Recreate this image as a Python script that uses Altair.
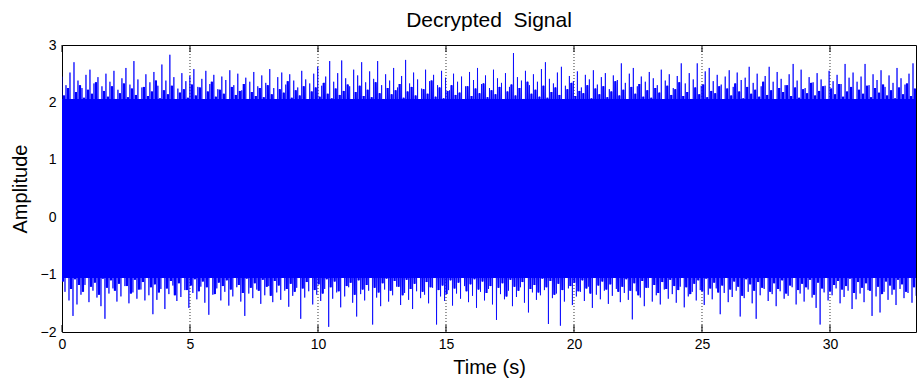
import altair as alt
import numpy as np
import pandas as pd

# Largest upward excursions of the decrypted signal
upper_peaks = [
    2.45, 2.30, 2.52, 2.70, 2.38, 2.25, 2.48, 2.57, 2.33, 2.44,
    2.28, 2.50, 2.36, 2.55, 2.22, 2.42, 2.60, 2.31, 2.72, 2.40,
    2.26, 2.49, 2.35, 2.53, 2.29, 2.66, 2.38, 2.83, 2.44, 2.24,
    2.51, 2.37, 2.46, 2.58, 2.27, 2.41, 2.55, 2.32, 2.48, 2.23,
    2.45, 2.39, 2.56, 2.30, 2.50, 2.21, 2.43, 2.36, 2.53, 2.28,
    2.47, 2.34, 2.58, 2.25, 2.44, 2.52, 2.31, 2.49, 2.38, 2.26,
    2.55, 2.40, 2.33, 2.50, 2.62, 2.29, 2.45, 2.72, 2.36, 2.51,
    2.73, 2.42, 2.28, 2.57, 2.47, 2.70, 2.35, 2.54, 2.41, 2.72,
    2.30, 2.49, 2.38, 2.60, 2.26, 2.46, 2.74, 2.33, 2.52, 2.40,
    2.24, 2.57, 2.37, 2.48, 2.30, 2.55, 2.43, 2.21, 2.50, 2.36,
    2.45, 2.28, 2.53, 2.39, 2.60, 2.32, 2.47, 2.25, 2.57, 2.42,
    2.34, 2.51, 2.27, 2.86, 2.44, 2.38, 2.55, 2.30, 2.49, 2.36,
    2.58, 2.70, 2.41, 2.33, 2.52, 2.62, 2.29, 2.46, 2.37, 2.54,
    2.26, 2.48, 2.40, 2.56, 2.31, 2.44, 2.51, 2.23, 2.47, 2.39,
    2.68, 2.34, 2.50, 2.60, 2.28, 2.45, 2.36, 2.53, 2.42, 2.30,
    2.57, 2.38, 2.49, 2.25, 2.46, 2.68, 2.33, 2.51, 2.40, 2.68,
    2.29, 2.54, 2.60, 2.37, 2.48, 2.31, 2.45, 2.56, 2.27, 2.52,
    2.39, 2.43, 2.62, 2.34, 2.50, 2.28, 2.46, 2.62, 2.36, 2.53,
    2.41, 2.30, 2.49, 2.67, 2.38, 2.57, 2.25, 2.44, 2.35, 2.51,
    2.40, 2.29, 2.55, 2.37, 2.48, 2.32, 2.67, 2.43, 2.52, 2.36,
    2.45, 2.67, 2.30, 2.49, 2.39, 2.56, 2.27, 2.47, 2.34, 2.60,
    2.42, 2.31, 2.50, 2.68,
]

# Largest downward excursions
lower_peaks = [
    -1.30, -1.45, -1.72, -1.52, -1.35, -1.18, -1.48, -1.28, -1.40, -1.55,
    -1.77, -1.33, -1.24, -1.47, -1.38, -1.20, -1.50, -1.31, -1.42, -1.26,
    -1.45, -1.36, -1.69, -1.44, -1.25, -1.60, -1.34, -1.19, -1.46, -1.39,
    -1.27, -1.58, -1.32, -1.43, -1.21, -1.49, -1.70, -1.35, -1.24, -1.45,
    -1.30, -1.54, -1.38, -1.22, -1.47, -1.72, -1.33, -1.41, -1.26, -1.51,
    -1.36, -1.20, -1.48, -1.31, -1.44, -1.28, -1.56, -1.37, -1.23, -1.77,
    -1.40, -1.29, -1.52, -1.35, -1.46, -1.25, -1.91, -1.42, -1.31, -1.57,
    -1.38, -1.22, -1.49, -1.73, -1.34, -1.45, -1.28, -1.87, -1.40, -1.55,
    -1.26, -1.47, -1.36, -1.21, -1.53, -1.32, -1.44, -1.60, -1.29, -1.41,
    -1.35, -1.50, -1.23, -1.87, -1.38, -1.46, -1.27, -1.54, -1.33, -1.42,
    -1.20, -1.48, -1.37, -1.58, -1.30, -1.45, -1.25, -1.52, -1.79, -1.34,
    -1.43, -1.28, -1.55, -1.39, -1.22, -1.49, -1.66, -1.31, -1.44, -1.36,
    -1.27, -1.86, -1.41, -1.33, -1.89, -1.47, -1.24, -1.53, -1.38, -1.30,
    -1.46, -1.21, -1.58, -1.35, -1.43, -1.28, -1.51, -1.37, -1.25, -1.48,
    -1.32, -1.44, -1.78, -1.29, -1.40, -1.55, -1.23, -1.47, -1.36, -1.52,
    -1.26, -1.42, -1.34, -1.49, -1.21, -1.57, -1.38, -1.30, -1.45, -1.27,
    -1.53, -1.35, -1.43, -1.24, -1.69, -1.32, -1.48, -1.39, -1.28, -1.73,
    -1.41, -1.30, -1.50, -1.77, -1.36, -1.25, -1.46, -1.34, -1.55, -1.29,
    -1.42, -1.37, -1.22, -1.52, -1.33, -1.47, -1.26, -1.40, -1.58, -1.87,
    -1.31, -1.45, -1.36, -1.24, -1.50, -1.39, -1.28, -1.60, -1.43, -1.33,
    -1.48, -1.27, -1.72, -1.38, -1.66, -1.30, -1.44, -1.35, -1.53, -1.25,
    -1.41, -1.32, -1.49, -1.37,
]

# Smaller upward swings in between the large ones
upper_inner = [
    2.12, 2.25, 2.05, 2.18, 2.30, 2.08, 2.22, 2.15, 2.35, 2.02,
    2.20, 2.10, 2.28, 2.06, 2.16, 2.33, 2.09, 2.24, 2.13, 2.04,
    2.27, 2.11, 2.19, 2.38, 2.07, 2.21, 2.14, 2.29, 2.03, 2.17,
    2.23, 2.08, 2.31, 2.12, 2.26, 2.05, 2.19, 2.36, 2.10, 2.22,
    2.15, 2.02, 2.27, 2.13, 2.20, 2.32, 2.06, 2.18, 2.11, 2.25,
    2.09, 2.30, 2.14, 2.04, 2.23, 2.17, 2.37, 2.08, 2.21, 2.12,
    2.28, 2.05, 2.19, 2.26, 2.10, 2.34, 2.15, 2.07, 2.24, 2.13,
    2.20, 2.31, 2.03, 2.18, 2.29, 2.11, 2.22, 2.09, 2.35, 2.16,
    2.06, 2.25, 2.14, 2.21, 2.32, 2.08, 2.19, 2.27, 2.12, 2.04,
    2.23, 2.15, 2.38, 2.10, 2.26, 2.07, 2.20, 2.30, 2.13, 2.17,
    2.05, 2.28, 2.11, 2.24, 2.16, 2.33, 2.09, 2.21, 2.14, 2.27,
    2.02, 2.19, 2.31, 2.12, 2.25, 2.06, 2.36, 2.15, 2.22, 2.10,
    2.29, 2.08, 2.18, 2.26, 2.13, 2.04, 2.23, 2.34, 2.11, 2.20,
    2.16, 2.30, 2.07, 2.24, 2.14, 2.28, 2.09, 2.19, 2.37, 2.12,
    2.22, 2.05, 2.27, 2.15, 2.32, 2.10, 2.21, 2.08, 2.25, 2.17,
    2.03, 2.29, 2.13, 2.23, 2.35, 2.11, 2.18, 2.06, 2.26, 2.14,
    2.31, 2.09, 2.20, 2.16, 2.28, 2.04, 2.24, 2.12, 2.33, 2.19,
    2.07, 2.27, 2.15, 2.22, 2.10, 2.36, 2.13, 2.21, 2.05, 2.25,
    2.18, 2.30, 2.11, 2.26, 2.08, 2.23, 2.16, 2.34, 2.12, 2.20,
    2.28, 2.06, 2.24, 2.14, 2.32, 2.10, 2.19, 2.27, 2.03, 2.22,
    2.15, 2.29, 2.09, 2.25, 2.17, 2.31, 2.12, 2.21, 2.07, 2.26,
    2.14, 2.33, 2.11, 2.24,
]

# Smaller downward swings in between the large ones
lower_inner = [
    -1.12, -1.02, -1.25, -1.08, -1.18, -1.30, -1.05, -1.21, -1.14, -1.35,
    -1.07, -1.23, -1.10, -1.28, -1.16, -1.03, -1.20, -1.33, -1.09, -1.26,
    -1.13, -1.04, -1.22, -1.17, -1.31, -1.06, -1.24, -1.11, -1.36, -1.15,
    -1.01, -1.27, -1.19, -1.08, -1.29, -1.12, -1.22, -1.05, -1.34, -1.14,
    -1.20, -1.10, -1.26, -1.03, -1.18, -1.32, -1.07, -1.23, -1.15, -1.28,
    -1.09, -1.21, -1.37, -1.11, -1.19, -1.04, -1.25, -1.16, -1.30, -1.06,
    -1.24, -1.13, -1.02, -1.27, -1.17, -1.33, -1.08, -1.22, -1.12, -1.29,
    -1.05, -1.20, -1.14, -1.35, -1.10, -1.26, -1.18, -1.03, -1.23, -1.31,
    -1.15, -1.07, -1.28, -1.11, -1.21, -1.36, -1.09, -1.25, -1.16, -1.04,
    -1.30, -1.13, -1.22, -1.06, -1.27, -1.19, -1.34, -1.10, -1.24, -1.14,
    -1.02, -1.29, -1.17, -1.08, -1.26, -1.12, -1.32, -1.20, -1.05, -1.23,
    -1.15, -1.38, -1.09, -1.21, -1.28, -1.13, -1.03, -1.25, -1.18, -1.31,
    -1.07, -1.22, -1.11, -1.35, -1.16, -1.27, -1.04, -1.20, -1.14, -1.29,
    -1.10, -1.24, -1.33, -1.06, -1.19, -1.12, -1.26, -1.17, -1.01, -1.30,
    -1.21, -1.08, -1.28, -1.15, -1.36, -1.11, -1.23, -1.05, -1.18, -1.32,
    -1.13, -1.25, -1.09, -1.20, -1.27, -1.04, -1.22, -1.34, -1.16, -1.10,
    -1.29, -1.07, -1.24, -1.14, -1.31, -1.19, -1.02, -1.26, -1.12, -1.21,
    -1.37, -1.08, -1.17, -1.28, -1.13, -1.23, -1.06, -1.30, -1.15, -1.25,
    -1.10, -1.33, -1.19, -1.03, -1.27, -1.16, -1.22, -1.09, -1.35, -1.14,
    -1.24, -1.05, -1.29, -1.18, -1.11, -1.26, -1.20, -1.07, -1.32, -1.13,
    -1.23, -1.15, -1.28, -1.04, -1.21, -1.34, -1.12, -1.19, -1.26, -1.09,
    -1.17, -1.30, -1.06, -1.22,
]

# Dense body of the waveform
core_upper = 2.06
core_lower = -1.06

T_END = 33.36
x_ticks = [0, 5, 10, 15, 20, 25, 30]
y_ticks = [-2, -1, 0, 1, 2, 3]
grid_x = [5, 10, 15, 20, 25, 30]

FONT = "Liberation Sans"
BLUE = "#0000ff"

# weave the four excursion sets into one alternating trace:
# big up, small down, small up, big down, ...
n = len(upper_peaks)
amp = np.empty(4 * n)
amp[0::4] = upper_peaks
amp[1::4] = lower_inner
amp[2::4] = upper_inner
amp[3::4] = lower_peaks
t = np.linspace(0, T_END, len(amp))
signal = pd.DataFrame({"t": t, "amp": amp, "i": np.arange(len(amp))})

# the small swings on their own form the saturated body of the waveform
inner = signal[(signal["i"] % 4 == 1) | (signal["i"] % 4 == 2)]

xscale = alt.Scale(domain=[0, T_END], nice=False, zero=False)
yscale = alt.Scale(domain=[-2, 3], nice=False, zero=False)

x_axis = alt.Axis(values=x_ticks, format="d", ticks=False, domain=False, grid=False,
                  labelFlush=False, labelFont=FONT, labelFontSize=14, labelColor="black",
                  labelPadding=5, title="Time (s)", titleFont=FONT, titleFontSize=20,
                  titleFontWeight="normal", titleColor="black", titlePadding=6)
y_axis = alt.Axis(values=y_ticks, format="d", ticks=False, domain=False, grid=False,
                  labelFlush=False, labelFont=FONT, labelFontSize=14, labelColor="black",
                  labelPadding=6, title="Amplitude", titleFont=FONT, titleFontSize=20,
                  titleFontWeight="normal", titleColor="black", titlePadding=10)

grid = alt.Chart(pd.DataFrame({"g": grid_x})).mark_rule(
    color="black", strokeWidth=0.8, strokeDash=[1, 2]
).encode(x=alt.X("g:Q", scale=xscale, axis=x_axis))

tick_df = pd.DataFrame({"g": x_ticks})
ticks_bottom = alt.Chart(tick_df).mark_rule(color="black", strokeWidth=1).encode(
    x=alt.X("g:Q", scale=xscale), y=alt.value(280), y2=alt.value(287))
ticks_top = alt.Chart(tick_df).mark_rule(color="black", strokeWidth=1).encode(
    x=alt.X("g:Q", scale=xscale), y=alt.value(0), y2=alt.value(7))

body = alt.Chart(pd.DataFrame({"t": [0, T_END], "lo": [core_lower] * 2, "hi": [core_upper] * 2})).mark_area(
    color=BLUE, opacity=1
).encode(
    x=alt.X("t:Q", scale=xscale),
    y=alt.Y("lo:Q", scale=yscale, axis=y_axis),
    y2="hi:Q",
)

inner_trace = alt.Chart(inner).mark_line(color=BLUE, strokeWidth=2.2, clip=True).encode(
    x=alt.X("t:Q", scale=xscale),
    y=alt.Y("amp:Q", scale=yscale),
    order="i:Q",
)

trace = alt.Chart(signal).mark_line(color=BLUE, strokeWidth=0.8, clip=True).encode(
    x=alt.X("t:Q", scale=xscale),
    y=alt.Y("amp:Q", scale=yscale),
    order="i:Q",
)

chart = alt.layer(grid, ticks_bottom, ticks_top, body, inner_trace, trace).properties(
    width=854, height=287,
    title=alt.TitleParams("Decrypted\u00a0\u00a0Signal", font=FONT, fontSize=21, fontWeight="normal",
                          color="black", anchor="middle", offset=7),
    padding={"left": 62, "top": 45, "right": 4, "bottom": 51},
    autosize=alt.AutoSizeParams(type="none"),
).configure(background="white").configure_view(stroke="black", strokeWidth=1)

chart.save("out.html", embed_options={"renderer": "svg", "actions": False})
